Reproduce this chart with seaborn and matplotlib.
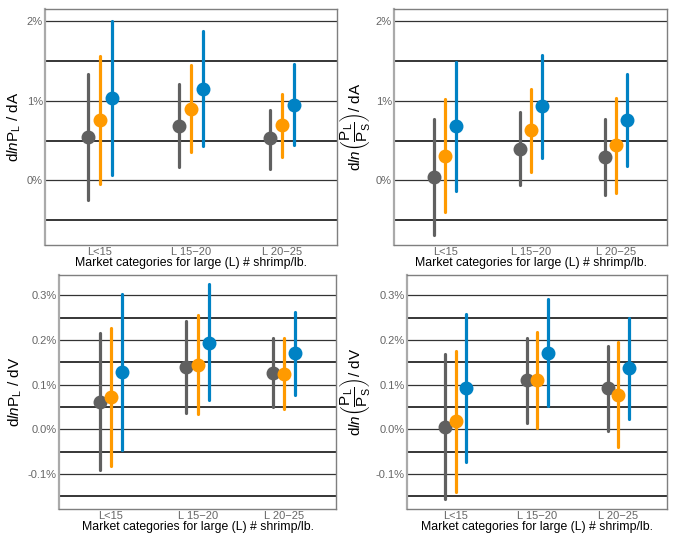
import numpy as np
import pandas as pd
import matplotlib
matplotlib.use("Agg")
import matplotlib.pyplot as plt
import seaborn as sns

cats = ["L<15", "L 15\u221220", "L 20\u221225"]
groups = ["g1", "g2", "g3"]
colors = ["#606060", "#ff9a00", "#0082c4"]

# estimates, lower, upper (percent) per group, per category
a_lp_est = [[0.55, 0.68, 0.53], [0.76, 0.90, 0.70], [1.03, 1.15, 0.95]]
a_lp_lo = [[-0.24, 0.17, 0.15], [-0.05, 0.36, 0.30], [0.07, 0.43, 0.44]]
a_lp_hi = [[1.34, 1.21, 0.89], [1.56, 1.45, 1.08], [2.00, 1.88, 1.46]]

a_rat_est = [[0.04, 0.40, 0.29], [0.31, 0.63, 0.45], [0.68, 0.93, 0.76]]
a_rat_lo = [[-0.68, -0.06, -0.18], [-0.40, 0.11, -0.16], [-0.13, 0.28, 0.18]]
a_rat_hi = [[0.77, 0.86, 0.77], [1.02, 1.15, 1.03], [1.49, 1.58, 1.34]]

v_lp_est = [[0.062, 0.140, 0.127], [0.073, 0.145, 0.123], [0.128, 0.194, 0.172]]
v_lp_lo = [[-0.090, 0.037, 0.050], [-0.081, 0.034, 0.045], [-0.046, 0.066, 0.078]]
v_lp_hi = [[0.216, 0.242, 0.204], [0.228, 0.256, 0.204], [0.302, 0.325, 0.262]]

v_rat_est = [[0.006, 0.110, 0.093], [0.018, 0.111, 0.078], [0.093, 0.172, 0.138]]
v_rat_lo = [[-0.155, 0.015, -0.003], [-0.140, 0.004, -0.039], [-0.072, 0.053, 0.024]]
v_rat_hi = [[0.168, 0.204, 0.186], [0.175, 0.219, 0.196], [0.258, 0.291, 0.250]]

a_ticks = [0, 1, 2]
a_ticklabels = ["0%", "1%", "2%"]
a_minor = [-0.5, 0.5, 1.5]
v_ticks = [-0.1, 0.0, 0.1, 0.2, 0.3]
v_ticklabels = ["-0.1%", "0.0%", "0.1%", "0.2%", "0.3%"]
v_minor = [-0.15, -0.05, 0.05, 0.15, 0.25]

xlabel = "Market categories for large (L) # shrimp/lb."
ylab_a1 = r"d$\mathit{ln}$P$_\mathrm{L}$ / dA"
ylab_a2 = r"d$\mathit{ln}\left(\dfrac{\mathrm{P_L}}{\mathrm{P_S}}\right)$/ dA"
ylab_v1 = r"d$\mathit{ln}$P$_\mathrm{L}$ / dV"
ylab_v2 = r"d$\mathit{ln}\left(\dfrac{\mathrm{P_L}}{\mathrm{P_S}}\right)$/ dV"


def make_df(est, lo, hi):
    rows = []
    for gi, g in enumerate(groups):
        for ci, c in enumerate(cats):
            for v in (lo[gi][ci], est[gi][ci], hi[gi][ci]):
                rows.append({"cat": c, "grp": g, "val": v})
    return pd.DataFrame(rows)


sns.set_style("white")
plt.rcParams["font.family"] = ["Liberation Sans", "DejaVu Sans"]
plt.rcParams["mathtext.fontset"] = "custom"
plt.rcParams["mathtext.rm"] = "Liberation Sans"
plt.rcParams["mathtext.it"] = "Liberation Sans:italic"

fig = plt.figure(figsize=(6.76, 5.35), dpi=100)
boxes = [
    [0.0666, 0.542, 0.432, 0.441],
    [0.583, 0.542, 0.404, 0.441],
    [0.0873, 0.0486, 0.410, 0.437],
    [0.602, 0.0486, 0.385, 0.437],
]
panels = [
    (a_lp_est, a_lp_lo, a_lp_hi, ylab_a1, a_ticks, a_ticklabels, a_minor, (-0.81, 2.15)),
    (a_rat_est, a_rat_lo, a_rat_hi, ylab_a2, a_ticks, a_ticklabels, a_minor, (-0.81, 2.15)),
    (v_lp_est, v_lp_lo, v_lp_hi, ylab_v1, v_ticks, v_ticklabels, v_minor, (-0.178, 0.345)),
    (v_rat_est, v_rat_lo, v_rat_hi, ylab_v2, v_ticks, v_ticklabels, v_minor, (-0.178, 0.345)),
]

for box, (est, lo, hi, ylab, ticks, tlabels, minor, ylim) in zip(boxes, panels):
    ax = fig.add_axes(box)
    df = make_df(est, lo, hi)
    for t in ticks:
        ax.axhline(t, color="#333333", lw=0.9, zorder=0)
    for m in minor:
        ax.axhline(m, color="black", lw=1.1, zorder=0)
    sns.pointplot(data=df, x="cat", y="val", hue="grp", order=cats,
                  hue_order=groups, palette=colors, estimator="median",
                  errorbar=("pi", 100), dodge=0.26, linestyle="none",
                  markers="o", markersize=8, err_kws={"linewidth": 2.3},
                  legend=False, ax=ax)
    ax.set_xlim(-0.6, 2.6)
    ax.set_ylim(*ylim)
    ax.set_yticks(ticks)
    ax.set_yticklabels(tlabels)
    ax.tick_params(axis="both", labelsize=8, colors="#666666", length=0, pad=1.5)
    ax.set_xlabel(xlabel, fontsize=8.8, color="black", labelpad=0)
    ax.set_ylabel(ylab, fontsize=11, color="black", labelpad=3)
    for s in ax.spines.values():
        s.set_color("#7f7f7f")
        s.set_linewidth(1.0)
    ax.spines["left"].set_color("#aaaaaa")
    ax.spines["left"].set_linewidth(1.6)

fig.savefig("out.png", dpi=100)
